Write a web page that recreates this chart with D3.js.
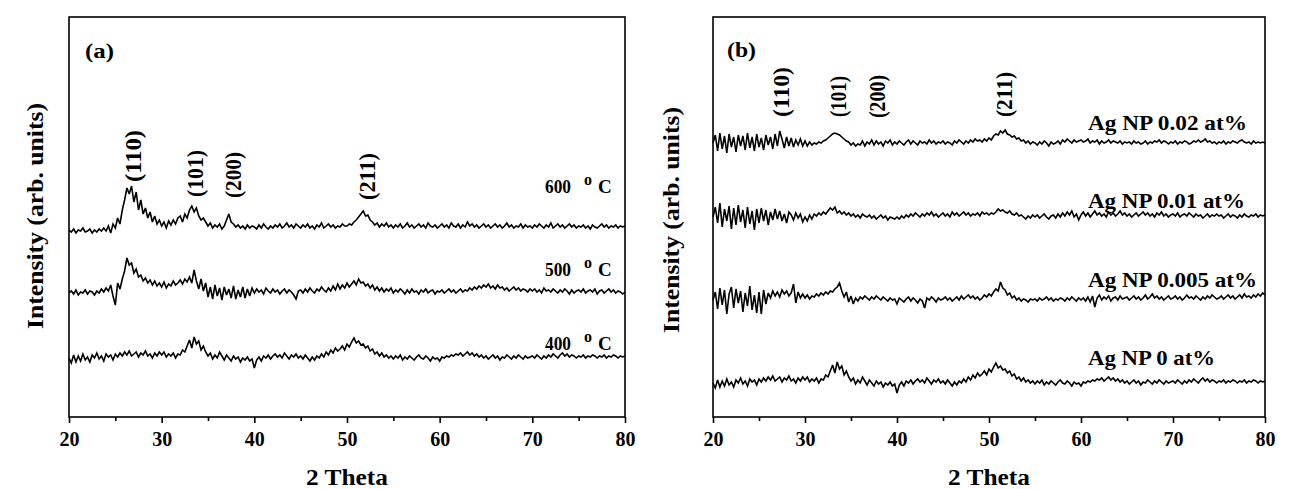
<!DOCTYPE html>
<html><head><meta charset="utf-8">
<script src="https://cdn.jsdelivr.net/npm/d3@7"></script>
<style>
body{margin:0;background:#fff}
svg{display:block}
text{font-family:"Liberation Serif","Times New Roman",Tinos,serif;font-weight:bold;fill:#000}
</style>
</head><body>
<svg id="chart" width="1297" height="489"></svg>
<script>
// ---------- DATA (2θ from 20° to 80°, step 0.25°; intensity deviations, arb. units) ----------
const thetaRange = [20, 80];
const xTickValues = [20, 30, 40, 50, 60, 70, 80];
const xMinorTicks = [25, 35, 45, 55, 65, 75];

const t400 = [
 0,-5,3,-4,2,-3,4,-2,1,-4,3,0,5,-1,2,-3,4,1,3,-2,
 4,1,5,2,6,3,7,2,4,6,1,5,3,7,2,4,0,5,2,6,
 3,6,1,4,2,5,0,4,3,8,6,12,18,10,21,14,17,8,12,6,
 2,5,-1,3,0,6,2,-2,3,0,-3,2,-1,1,-4,0,-2,1,-3,-1,
 -10,-2,1,-3,2,0,3,-1,2,4,1,3,0,5,2,-1,3,1,4,0,
 2,-1,3,0,-3,1,-2,2,0,4,1,6,3,8,5,10,7,9,12,8,
 14,11,16,20,15,17,13,14,10,12,7,9,4,6,2,5,1,3,0,2,
 -1,2,0,3,-2,1,-1,2,0,-2,1,3,0,-1,2,0,-3,1,-1,0,
 -3,1,0,2,1,3,2,4,3,5,2,4,6,3,5,2,4,1,3,0,
 2,-1,1,3,0,2,-2,1,0,3,1,-1,2,0,3,1,-1,2,0,1,
 2,0,3,1,-1,2,0,3,1,4,2,0,3,5,2,4,1,3,2,0,
 2,1,3,0,2,1,3,2,0,2,1,3,0,2,1,3,2,0,2,1,
 2];

const t500 = [
 0,2,-1,3,-2,1,0,3,-1,2,1,-2,2,0,4,1,5,2,8,-3,
 -12,10,4,14,22,35,28,30,20,24,16,18,12,15,10,13,8,12,7,10,
 6,11,5,9,7,12,8,10,13,9,14,11,16,10,23,12,4,14,2,10,
 -4,6,-6,8,-3,5,-7,6,-2,4,-5,7,-6,3,-4,6,-5,4,-3,5,
 0,4,1,3,-1,5,2,0,4,1,3,-1,2,4,0,3,1,-2,-6,2,
 3,0,4,1,5,2,0,4,2,6,3,1,5,2,7,3,9,4,8,5,
 10,6,9,12,8,14,10,11,7,9,5,8,3,6,2,5,1,4,2,5,
 0,3,1,4,2,-1,3,0,4,1,2,-1,3,1,4,0,2,3,-1,2,
 1,3,0,2,4,1,3,0,2,4,1,3,2,5,3,6,4,7,5,8,
 6,9,5,7,4,8,5,6,3,5,2,4,6,3,5,2,4,3,1,4,
 2,4,1,3,0,5,2,3,1,4,2,0,3,1,4,2,-1,3,0,2,
 3,1,4,0,2,3,1,4,-1,2,3,0,2,4,1,3,0,2,1,-1,
 1];

const t600 = [
 0,-2,1,-3,0,-1,2,-2,-1,1,-3,0,-2,1,-1,2,-1,4,-3,6,
 2,12,6,20,30,42,36,44,28,38,20,30,16,22,12,18,8,14,6,10,
 4,8,2,9,5,10,6,12,14,8,16,12,20,24,18,22,14,10,12,8,
 4,7,2,5,3,6,1,4,10,16,8,6,3,5,2,4,1,5,2,4,
 3,1,5,2,6,3,1,4,2,5,3,6,2,4,7,3,5,2,6,4,
 2,5,3,6,2,4,1,5,3,7,2,4,6,3,5,2,4,3,6,4,
 4,6,5,8,10,13,16,19,14,15,10,8,5,7,3,6,4,7,3,5,
 2,5,3,6,2,4,7,3,5,2,4,6,3,5,2,7,4,3,5,2,
 4,6,3,5,2,7,4,3,6,2,5,3,8,4,6,3,5,2,4,6,
 3,5,2,4,6,3,5,2,4,7,3,5,2,4,3,6,2,5,3,4,
 2,5,3,6,4,2,5,3,7,2,4,6,3,5,2,4,6,3,5,2,
 4,3,5,2,4,1,5,3,2,4,6,3,5,2,4,3,5,2,4,3,
 4];

const ag0 = t400.slice(); // Ag NP 0 at% is the undoped film (same pattern as 400 °C)

const ag0005 = [
 0,8,-9,12,-5,10,-14,6,13,-8,11,-3,9,-12,7,-6,14,-10,5,-13,
 8,-14,10,-4,7,2,9,4,8,3,10,6,9,4,7,16,-3,8,2,6,
 2,5,1,4,3,6,4,7,5,8,6,9,8,11,13,17,9,3,8,-2,
 4,-4,2,-1,3,1,4,2,0,3,1,4,2,0,3,1,-1,2,0,1,
 -4,2,0,-2,1,3,-1,2,0,-3,1,-1,-8,2,0,3,1,-2,2,0,
 1,3,0,2,-1,1,3,0,4,1,3,5,2,4,1,3,0,2,5,3,
 6,4,8,11,9,18,12,10,5,7,2,4,0,2,-1,1,0,-2,1,0,
 1,-1,2,0,1,3,0,2,-1,1,0,2,1,-1,2,0,3,1,-1,2,
 0,2,-1,3,-2,4,-7,2,5,0,3,1,4,-1,2,3,0,4,1,2,
 3,0,2,4,1,3,0,2,5,1,3,6,2,4,1,3,0,2,4,1,
 2,4,1,3,0,2,5,2,3,1,4,2,0,3,1,4,2,5,3,1,
 2,4,1,3,5,2,4,1,3,5,2,6,3,4,2,5,3,6,4,7,
 5];

const ag001 = [
 0,10,-6,14,-10,8,-4,11,-12,9,-8,12,-5,7,-11,10,-7,6,-13,8,
 -6,9,-4,7,-8,5,-3,8,-2,6,-4,3,-6,5,2,-3,4,-1,3,-5,
 0,-4,2,-2,3,1,4,2,5,3,6,9,7,10,4,6,3,5,2,4,
 1,3,0,2,-1,3,1,0,2,-1,1,-2,0,2,-1,1,-3,0,-1,-2,
 0,-2,1,-1,2,0,3,1,4,2,0,3,1,4,2,5,1,3,0,2,
 4,1,3,0,5,2,4,1,3,5,2,4,1,3,2,4,1,5,3,4,
 2,4,3,5,8,6,7,5,4,6,3,2,4,1,2,0,-2,1,-1,2,
 0,2,-1,1,3,0,-2,1,2,-1,3,0,4,1,5,2,6,0,3,-3,
 2,5,1,4,0,3,6,2,4,1,3,0,5,2,4,1,3,6,2,4,
 1,3,0,2,4,1,3,5,2,4,1,3,0,4,2,5,1,3,0,2,
 3,1,4,0,2,3,1,4,2,0,3,1,2,-1,1,3,0,2,1,3,
 1,2,-1,1,3,0,2,1,-1,2,0,3,1,0,2,1,3,0,2,1,
 2];

const ag002 = [
 0,8,-8,10,-6,7,-10,9,-4,6,-9,8,-3,7,-7,10,-5,6,-8,9,
 -4,5,-7,8,-2,6,-6,9,-3,12,4,-5,6,-3,5,-4,3,-2,4,-3,
 2,-3,1,-2,0,-1,1,0,2,3,5,7,9,10,9,8,6,4,2,1,
 -2,0,-3,-1,-2,2,-3,1,-1,3,-2,2,-1,1,-3,2,0,3,-2,1,
 -1,2,0,-2,1,3,-1,2,0,-2,2,0,1,-1,3,0,2,-1,1,0,
 2,-1,1,0,-2,2,0,3,1,-1,2,0,3,1,4,2,3,1,4,2,
 5,3,7,9,8,12,10,13,9,8,6,7,4,5,2,3,0,2,-1,1,
 0,-2,1,-1,2,0,-3,1,-1,0,2,-1,3,1,4,2,0,3,1,2,
 3,1,2,4,0,2,1,3,-1,2,0,1,3,0,2,1,0,2,-1,1,
 0,1,-1,2,0,1,-1,0,2,-1,1,0,2,1,3,0,2,1,-1,1,
 0,2,-1,1,0,2,1,-1,0,2,1,3,1,2,4,1,2,0,1,-1,
 1,0,2,-1,1,0,2,1,0,2,3,1,0,1,-1,2,0,1,0,1,
 0];

// stacking offsets (arb. units)
const tempNames = ["400", "500", "600"];
const tempSeries = [t400, t500, t600];
const tempOffsets = [59, 124, 187];

const agNames = ["Ag NP 0 at%", "Ag NP 0.005 at%", "Ag NP 0.01 at%", "Ag NP 0.02 at%"];
const agSeries = [ag0, ag0005, ag001, ag002];
const agOffsets = [34, 117, 200, 274];

const peakNames = ["(110)", "(101)", "(200)", "(211)"];
const peakAnglesA = [26.9, 33.6, 37.7, 52.2];
const peakAnglesB = [27.4, 33.6, 37.8, 51.6];

// ---------- LAYOUT ----------
const svg = d3.select("#chart");
const yDomain = [0, 400];
const FONT = '"Liberation Serif","Times New Roman",Tinos,serif';

function drawPanel(cfg) {
  const g = svg.append("g");
  const x = d3.scaleLinear().domain(thetaRange).range([cfg.left, cfg.right]);
  const y = d3.scaleLinear().domain(yDomain).range([cfg.bottom, cfg.bottom - 400]);

  // traces
  cfg.series.forEach((vals, k) => {
    const n = vals.length;
    const line = d3.line()
      .x((d, i) => x(thetaRange[0] + i * (thetaRange[1] - thetaRange[0]) / (n - 1)))
      .y(d => y(d + cfg.offsets[k]));
    g.append("path").datum(vals).attr("d", line)
      .attr("fill", "none").attr("stroke", "#000").attr("stroke-width", 1.6)
      .attr("stroke-linejoin", "miter").attr("stroke-miterlimit", 3);
  });

  // frame
  g.append("rect").attr("x", cfg.left).attr("y", cfg.top)
    .attr("width", cfg.right - cfg.left).attr("height", cfg.bottom - cfg.top)
    .attr("fill", "none").attr("stroke", "#000").attr("stroke-width", 1.6);

  // x axis major
  const ax = g.append("g").attr("transform", `translate(0,${cfg.bottom})`)
    .call(d3.axisBottom(x).tickValues(xTickValues).tickSize(6).tickPadding(9).tickFormat(d3.format("d")));
  ax.attr("font-family", null).attr("font-size", null);
  ax.select(".domain").remove();
  ax.selectAll("line").attr("stroke-width", 1.6);
  ax.selectAll("text").style("font-size", "20px").style("font-family", FONT).style("font-weight", "bold");
  const axm = g.append("g").attr("transform", `translate(0,${cfg.bottom})`)
    .call(d3.axisBottom(x).tickValues(xMinorTicks).tickSize(4).tickFormat(""));
  axm.select(".domain").remove();
  axm.selectAll("line").attr("stroke-width", 1.6);

  // axis titles
  g.append("text").attr("x", (cfg.left + cfg.right) / 2).attr("y", 485)
    .attr("text-anchor", "middle").style("font-size", "23px")
    .attr("textLength", 82).attr("lengthAdjust", "spacingAndGlyphs").text("2 Theta");
  g.append("text").attr("transform", `translate(${cfg.ylabX},${cfg.ylabY}) rotate(-90)`)
    .attr("text-anchor", "middle").style("font-size", "23px")
    .attr("textLength", 226).attr("lengthAdjust", "spacingAndGlyphs").text("Intensity (arb. units)");

  // panel tag
  g.append("text").attr("x", cfg.tagX).attr("y", cfg.tagY).style("font-size", "20px")
    .attr("textLength", 29).attr("lengthAdjust", "spacingAndGlyphs").text(cfg.tag);

  // peak labels (rotated)
  cfg.peaks.forEach((p, i) => {
    g.append("text")
      .attr("transform", `translate(${x(p) + 8},${cfg.peakStart[i]}) rotate(-90)`)
      .style("font-size", "24px")
      .attr("textLength", cfg.peakLen[i]).attr("lengthAdjust", "spacingAndGlyphs")
      .text(peakNames[i]);
  });
  return {g, x, y};
}

// Panel (a)
const A = drawPanel({
  left: 69, right: 625, top: 17, bottom: 417,
  series: tempSeries, offsets: tempOffsets,
  ylabX: 43, ylabY: 216, tag: "(a)", tagX: 85, tagY: 58,
  peaks: peakAnglesA, peakStart: [182, 197, 198, 200], peakLen: [52, 47, 46, 47]
});
const tempLabelY = [350, 276, 193];
tempNames.forEach((nm, i) => {
  const x0 = 545;
  const t = A.g.append("text").attr("x", x0).attr("y", tempLabelY[i]).style("font-size", "19px");
  t.append("tspan").text(nm).attr("textLength", 26).attr("lengthAdjust", "spacingAndGlyphs");
  t.append("tspan").attr("x", x0 + 39).attr("dy", -8).style("font-size", "16px").text("o");
  t.append("tspan").attr("x", x0 + 53).attr("dy", 8).text("C");
});

// Panel (b)
const B = drawPanel({
  left: 713, right: 1265, top: 17, bottom: 417,
  series: agSeries, offsets: agOffsets,
  ylabX: 679, ylabY: 220, tag: "(b)", tagX: 727, tagY: 57,
  peaks: peakAnglesB, peakStart: [117, 117, 118, 117], peakLen: [50, 41, 43, 45]
});
const agLabelY = [365, 287, 208, 130];
const agLabelLen = [127, 169, 157, 159];
agNames.forEach((nm, i) => {
  B.g.append("text").attr("x", 1088).attr("y", agLabelY[i]).style("font-size", "21px")
    .attr("textLength", agLabelLen[i]).attr("lengthAdjust", "spacingAndGlyphs").text(nm);
});
</script>
</body></html>
